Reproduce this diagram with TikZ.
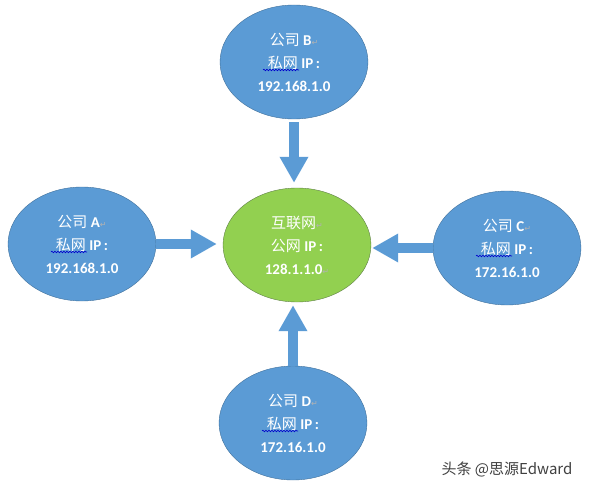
\documentclass[tikz,border=0pt]{standalone}
\usepackage{fontspec}
\setmainfont{Carlito}
\newfontfamily\zhfont{Noto Sans CJK SC}
\newfontfamily\symfont{DejaVu Sans}
\usetikzlibrary{shapes.geometric,arrows.meta,decorations.pathmorphing}
\definecolor{firmblue}{HTML}{5B9BD5}
\definecolor{firmline}{HTML}{41719C}
\definecolor{netgreen}{HTML}{92D050}
\definecolor{netline}{RGB}{96,128,72}
\newcommand\zh[1]{{\zhfont\mdseries #1}}
\newcommand\pmark{{\symfont\mdseries\fontsize{8}{8}\selectfont\color{gray!60}↵}}
\tikzset{
  firm/.style={ellipse, draw=firmline, fill=firmblue, minimum width=148pt,
    minimum height=114pt, inner sep=0pt, text=white, align=center,
    font=\fontsize{15}{23}\selectfont\bfseries},
  hub/.style={firm, draw=netline, fill=netgreen},
  flow/.style={line width=10pt, draw=firmblue, -{Triangle[width=27pt,length=26pt]}},
  squiggle/.style={draw=blue!80!black, line width=.6pt, decorate,
    decoration={snake, amplitude=.8pt, segment length=3pt}}
}

\begin{document}
\begin{tikzpicture}[x=1pt,y=-1pt]
  \useasboundingbox (0,0) rectangle (589,492);
  \node [hub] (net) at (297,245) {\zh{互联网}\pmark\\ \zh{公网} IP\,:\\ 128.1.1.0\pmark};
  \node [firm] (B) at (294,62) {\zh{公司} B\pmark\\ \zh{私网} IP\,:\\ 192.168.1.0};
  \node [firm] (A) at (82,244) {\zh{公司} A\pmark\\ \zh{私网} IP\,:\\ 192.168.1.0};
  \node [firm] (C) at (507,248) {\zh{公司} C\pmark\\ \zh{私网} IP\,:\\ 172.16.1.0};
  \node [firm] (D) at (293,423) {\zh{公司} D\pmark\\ \zh{私网} IP\,:\\ 172.16.1.0};
  % block arrows into the hub
  \draw [flow, shorten <=3pt, shorten >=5pt] (B) -- (B |- net.north);
  \draw [flow, shorten >=6pt] (A) -- (A -| net.west);
  \draw [flow, shorten >=1pt] (C) -- (C -| net.east);
  \draw [flow, shorten >=3pt] (D) -- (D |- net.south);
  % spell-check marks
  \foreach \n in {A,B,C,D}
    \draw [squiggle] ([xshift=-31pt,yshift=-8pt]\n.center) -- ++(36,0);
  \node [font=\zhfont\fontsize{15}{15}\selectfont, text=black!75] (mark) at (507,469) {头条 @思源Edward};
\end{tikzpicture}
\end{document}
